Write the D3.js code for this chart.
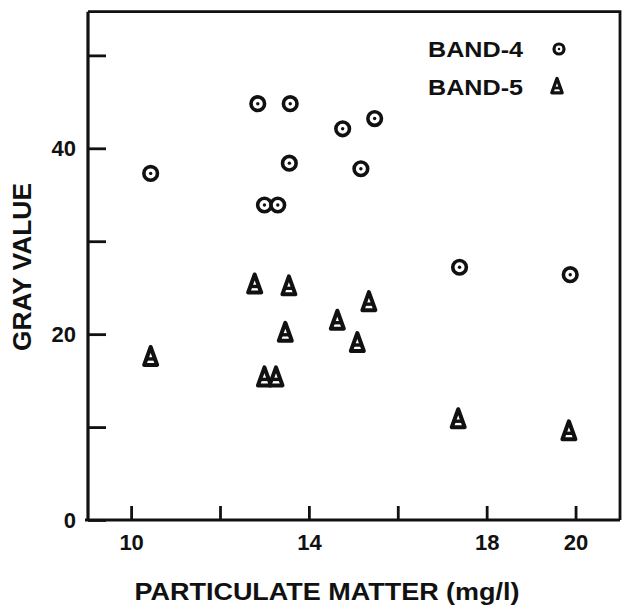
<!DOCTYPE html>
<html><head><meta charset="utf-8">
<script src="https://cdn.jsdelivr.net/npm/d3@7"></script>
<style>body{margin:0;background:#fff}svg{display:block}text{font-family:"Liberation Sans",Arial,sans-serif;font-weight:bold;fill:#111}</style>
</head><body>
<script>
const band4X = [10.44, 12.85, 13.58, 14.76, 15.48, 13.56, 15.17, 13.0, 13.3, 17.39, 19.88];
const band4Y = [37.3, 44.8, 44.8, 42.1, 43.2, 38.4, 37.8, 33.9, 33.9, 27.2, 26.4];
const band5X = [10.44, 12.78, 13.55, 13.47, 14.64, 15.35, 15.09, 13.0, 13.26, 17.36, 19.85];
const band5Y = [17.6, 25.4, 25.2, 20.2, 21.5, 23.5, 19.1, 15.4, 15.4, 10.9, 9.6];
const xTicks = [10, 12, 14, 16, 18, 20];
const xTickLabels = ["10", "", "14", "", "18", "20"];
const yTicks = [0, 10, 20, 30, 40, 50];
const yTickLabels = ["0", "", "20", "", "40", ""];
const seriesNames = ["BAND-4", "BAND-5"];

const W = 622, H = 611;
const L = 88, R = 620, T = 11.7, B = 520;
const svg = d3.select("body").append("svg").attr("width", W).attr("height", H);
const x = d3.scaleLinear().domain([9.03, 21.0]).range([L, R]);
const y = d3.scaleLinear().domain([0, 54.7]).range([B, T]);

// frame
svg.append("path").attr("d", `M${L},${T}H${R}V${B}`).attr("fill", "none").attr("stroke", "#111").attr("stroke-width", 2.8);

const xAxis = svg.append("g").attr("transform", `translate(0,${B})`)
  .call(d3.axisBottom(x).tickValues(xTicks).tickSize(-14).tickSizeOuter(0).tickPadding(14)
    .tickFormat((d, i) => xTickLabels[i]));
const yAxis = svg.append("g").attr("transform", `translate(${L},0)`)
  .call(d3.axisLeft(y).tickValues(yTicks).tickSize(-18).tickSizeOuter(0).tickPadding(12)
    .tickFormat((d, i) => yTickLabels[i]));
[xAxis, yAxis].forEach(g => {
  g.select(".domain").attr("stroke", "#111").attr("stroke-width", 3.2);
  g.selectAll(".tick line").attr("stroke", "#111").attr("stroke-width", 2.8);
  g.selectAll(".tick text").style("font-size", "22px").attr("fill", "#111");
});
xAxis.select(".domain").attr("d", `M${L - 3},0H${R}`);
yAxis.select(".domain").attr("d", `M0,${T}V${B}`);

function circleMark(g, r, sw) {
  g.append("circle").attr("r", r).attr("fill", "#fff").attr("stroke", "#111").attr("stroke-width", sw);
  g.append("circle").attr("r", r * 0.25).attr("fill", "#111");
}
function triMark(g, s) {
  g.append("path").attr("d", `M0,${-9.5 * s}L${6.5 * s},${8.5 * s}L${-6.5 * s},${8.5 * s}Z`)
    .attr("fill", "#fff").attr("stroke", "#111").attr("stroke-width", 4 * s).attr("stroke-linejoin", "round");
  g.append("line").attr("x1", -4 * s).attr("x2", 4 * s).attr("y1", 2.5 * s).attr("y2", 2.5 * s)
    .attr("stroke", "#111").attr("stroke-width", 3.4 * s);
}

svg.append("g").selectAll("g").data(band4X.map((v, i) => [v, band4Y[i]])).join("g")
  .attr("transform", d => `translate(${x(d[0])},${y(d[1])})`).each(function () { circleMark(d3.select(this), 6.8, 3.6); });
svg.append("g").selectAll("g").data(band5X.map((v, i) => [v, band5Y[i]])).join("g")
  .attr("transform", d => `translate(${x(d[0])},${y(d[1])})`).each(function () { triMark(d3.select(this), 1); });

// legend
svg.append("text").attr("x", 428).attr("y", 57).attr("textLength", 95).attr("lengthAdjust", "spacingAndGlyphs").style("font-size", "22px").text(seriesNames[0]);
svg.append("text").attr("x", 428).attr("y", 94.5).attr("textLength", 95).attr("lengthAdjust", "spacingAndGlyphs").style("font-size", "22px").text(seriesNames[1]);
circleMark(svg.append("g").attr("transform", "translate(559,49)"), 5, 3.2);
triMark(svg.append("g").attr("transform", "translate(557,86)"), 0.8);

// axis titles
svg.append("text").attr("transform", "translate(31,267) rotate(-90)").attr("text-anchor", "middle")
  .attr("textLength", 168).attr("lengthAdjust", "spacingAndGlyphs").style("font-size", "25px").text("GRAY VALUE");
svg.append("text").attr("x", 327).attr("y", 600).attr("text-anchor", "middle")
  .attr("textLength", 385).attr("lengthAdjust", "spacingAndGlyphs").style("font-size", "24px").text("PARTICULATE MATTER (mg/l)");
</script>
</body></html>
